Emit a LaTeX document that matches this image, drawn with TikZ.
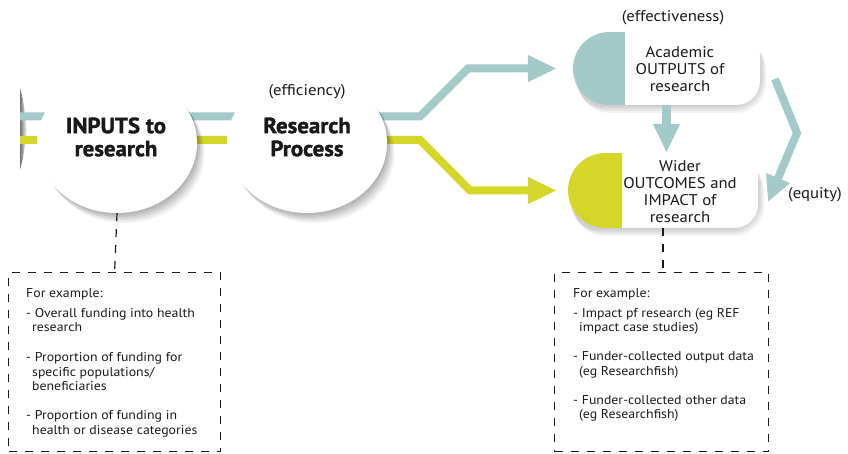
\documentclass[tikz,border=0pt]{standalone}
\usepackage{fontspec}
\setmainfont[FakeStretch=1.08]{PT Sans}
\newfontfamily\bigfont[FakeStretch=1.04, BoldFeatures={FakeBold=1.5}]{PT Sans}
\usetikzlibrary{arrows.meta,shapes.geometric,shadows,fadings}
\definecolor{tealc}{RGB}{163,202,200}
\definecolor{yelc}{RGB}{212,215,40}
\definecolor{txt}{RGB}{25,25,25}
\begin{document}
\begin{tikzpicture}[x=1pt,y=-1pt,
  band/.style={line width=8pt},
  tealband/.style={band, draw=tealc, -{Triangle[length=29pt,width=25pt]}},
  yelband/.style={band, draw=yelc, -{Triangle[length=29pt,width=25pt]}},
  softshadow/.style={
    general shadow={fill=black, opacity=.07, shadow xshift=1.5pt, shadow yshift=-2pt},
    general shadow={fill=black, opacity=.07, shadow xshift=3pt, shadow yshift=-4pt},
    general shadow={fill=black, opacity=.07, shadow xshift=4.5pt, shadow yshift=-6pt},
    general shadow={fill=black, opacity=.06, shadow xshift=6pt, shadow yshift=-8pt},
    general shadow={fill=black, opacity=.05, shadow xshift=7.5pt, shadow yshift=-10pt}},
  bubble/.style={ellipse, fill=white, minimum width=160pt, minimum height=140pt, inner sep=0pt, softshadow},
  big/.style={font=\fontsize{22}{23}\selectfont\bigfont\bfseries, text=txt, align=center},
  med/.style={font=\fontsize{15.5}{17}\selectfont, text=txt, align=center},
  small/.style={font=\fontsize{12.8}{14.5}\selectfont, text=txt, align=left, anchor=north west, inner sep=0pt},
  dashbox/.style={draw=txt, line width=1.2pt, dash pattern=on 8pt off 8pt, minimum width=212pt, minimum height=179pt, anchor=north west, inner sep=0pt},
  dashline/.style={draw=txt, line width=1.2pt, dash pattern=on 8pt off 8pt},
  capsule/.style={minimum width=187pt, minimum height=73pt, inner sep=0pt},
]
\useasboundingbox (0,0) rectangle (848,454);

% coordinates for the bands
\coordinate (tealL) at (20,116.5);
\coordinate (tealB1) at (420,116.5);
\coordinate (tealB2) at (468,68.5);
\coordinate (yelL) at (20,140);
\coordinate (yelB1) at (420,140);
\coordinate (yelB2) at (470,190.5);

% capsule placeholders (named)
\node[capsule] (outputs) at (666.5,68.5) {};
\node[capsule, minimum width=190pt, minimum height=75pt] (impact) at (663,190.5) {};

% left edge shadow
\fill[black!55, path fading=east] (20,88) -- (23,100) -- (27,129) -- (23,158) -- (20,170) -- cycle;

% bands
\draw[tealband, shorten >=16pt] (tealL) -- (tealB1) -- (tealB2) -- (outputs.west);
\draw[yelband, shorten >=11pt] (yelL) -- (yelB1) -- (yelB2) -- (impact.west);

% bubbles
\node[bubble] (inputs) at (117,143) {};
\node[big] (inputsT) at (116,137) {INPUTS to\\research};
\node[bubble] (process) at (307,143) {};
\node[med] (effic) at (307,92) {(efficiency)};
\node[big] (processT) at (307,137) {Research\\Process};

% top capsule
\foreach \s in {1.5,3,4.5,6}
  \fill[black, opacity=.05, rounded corners=30pt, xshift=\s, yshift={-1.3*\s}] (573,32) rectangle (760,105);
\fill[white, rounded corners=24pt] (592,32) rectangle (760,105);
\begin{scope}
  \clip (560,20) rectangle (625,120);
  \fill[tealc] (609.5,68.5) circle[radius=36.5];
\end{scope}
\fill[tealc] (609.5,32) rectangle (625,105);
\node[med] (outputsT) at (680,69.5) {Academic\\OUTPUTS of\\research};
\node[med] (effect) at (673,18) {(effectiveness)};

% bottom capsule
\foreach \s in {1.5,3,4.5,6}
  \fill[black, opacity=.05, rounded corners=30pt, xshift=\s, yshift={-1.3*\s}] (568,153) rectangle (758,228);
\fill[white, rounded corners=24pt] (587,153) rectangle (758,228);
\begin{scope}
  \clip (555,140) rectangle (622,240);
  \fill[yelc] (605.5,190.5) circle[radius=37.5];
\end{scope}
\fill[yelc] (605.5,153) rectangle (622,228);
\node[med] (impactT) at (680,192) {Wider\\OUTCOMES and\\IMPACT of\\research};

% down arrow between capsules
\draw[band, line width=9pt, draw=tealc, -{Triangle[length=29pt,width=25pt]}] (outputs.south) -- (outputs.south |- impact.north);

% equity arrow
\coordinate (eqA) at (775,79);
\coordinate (eqB) at (797,133);
\coordinate (eqC) at (768,202);
\draw[band, draw=tealc, -{Triangle[length=26pt,width=24pt]}] (eqA) -- (eqB) -- (eqC);
\node[med] (equity) at (815,195) {(equity)};

% dashed boxes
\node[dashbox] (lbox) at (8,272) {};
\node[dashbox, minimum width=214pt] (rbox) at (554,272) {};
\draw[dashline] (inputs.south) -- (lbox.north);
\draw[dashline] (impact.south) -- (impact.south |- rbox.north);

\node[small] (ltext) at (26,288) {For example:\\[5.5pt]
- Overall funding into health\\
\hspace*{6pt}research\\[15.5pt]
- Proportion of funding for\\
\hspace*{6pt}specific populations/\\
\hspace*{6pt}beneficiaries\\[14.5pt]
- Proportion of funding in\\
\hspace*{6pt}health or disease categories};

\node[small] (rtext) at (573,288) {For example:\\[5.5pt]
- Impact pf research (eg REF\\
\hspace*{6pt}impact case studies)\\[14.5pt]
- Funder-collected output data\\
\hspace*{6pt}(eg Researchfish)\\[14.5pt]
- Funder-collected other data\\
\hspace*{6pt}(eg Researchfish)};
\end{tikzpicture}
\end{document}
